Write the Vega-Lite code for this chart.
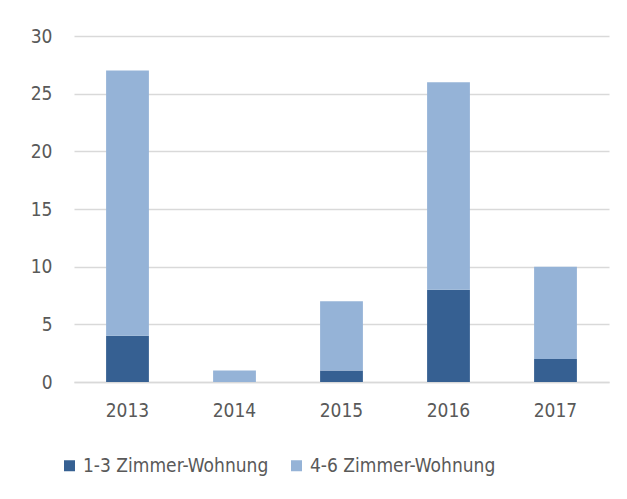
{
  "$schema": "https://vega.github.io/schema/vega-lite/v6.json",
  "width": 535,
  "height": 346,
  "autosize": {"type": "none"},
  "padding": {"left": 74, "top": 36, "right": 18, "bottom": 117},
  "background": "white",
  "data": {
    "values": [
      {"year": "2013", "type": "1-3 Zimmer-Wohnung", "value": 4},
      {"year": "2013", "type": "4-6 Zimmer-Wohnung", "value": 23},
      {"year": "2014", "type": "1-3 Zimmer-Wohnung", "value": 0},
      {"year": "2014", "type": "4-6 Zimmer-Wohnung", "value": 1},
      {"year": "2015", "type": "1-3 Zimmer-Wohnung", "value": 1},
      {"year": "2015", "type": "4-6 Zimmer-Wohnung", "value": 6},
      {"year": "2016", "type": "1-3 Zimmer-Wohnung", "value": 8},
      {"year": "2016", "type": "4-6 Zimmer-Wohnung", "value": 18},
      {"year": "2017", "type": "1-3 Zimmer-Wohnung", "value": 2},
      {"year": "2017", "type": "4-6 Zimmer-Wohnung", "value": 8}
    ]
  },
  "mark": {"type": "bar"},
  "encoding": {
    "x": {
      "field": "year", "type": "nominal", "title": null,
      "scale": {"paddingInner": 0.6, "paddingOuter": 0.3},
      "axis": {"labelAngle": 0, "ticks": false, "domain": true, "domainColor": "#d9d9d9", "domainWidth": 1.5, "labelPadding": 19, "labelFontSize": 19, "labelColor": "#595959", "labelFont": "DejaVu Sans Condensed, sans-serif"}
    },
    "y": {
      "field": "value", "type": "quantitative", "aggregate": "sum", "stack": "zero", "title": null,
      "scale": {"domain": [0, 30]},
      "axis": {"values": [0, 5, 10, 15, 20, 25, 30], "ticks": false, "domain": false, "grid": true, "gridColor": "#d9d9d9", "gridWidth": 1.5, "labelPadding": 22, "labelFontSize": 19, "labelColor": "#595959", "labelFont": "DejaVu Sans Condensed, sans-serif"}
    },
    "color": {
      "field": "type", "type": "nominal", "title": null,
      "scale": {"domain": ["1-3 Zimmer-Wohnung", "4-6 Zimmer-Wohnung"], "range": ["#366092", "#95b3d7"]},
      "legend": {"orient": "none", "legendX": -14, "legendY": 420, "direction": "horizontal", "symbolType": "square", "symbolSize": 121, "symbolStrokeWidth": 0, "symbolOpacity": 1, "labelFontSize": 19, "labelLimit": 400, "labelOffset": 4, "labelColor": "#595959", "labelFont": "DejaVu Sans Condensed, sans-serif", "columnPadding": 18, "symbolOffset": 0}
    },
    "order": {"field": "type", "sort": "ascending"}
  },
  "config": {"view": {"stroke": null}}
}
